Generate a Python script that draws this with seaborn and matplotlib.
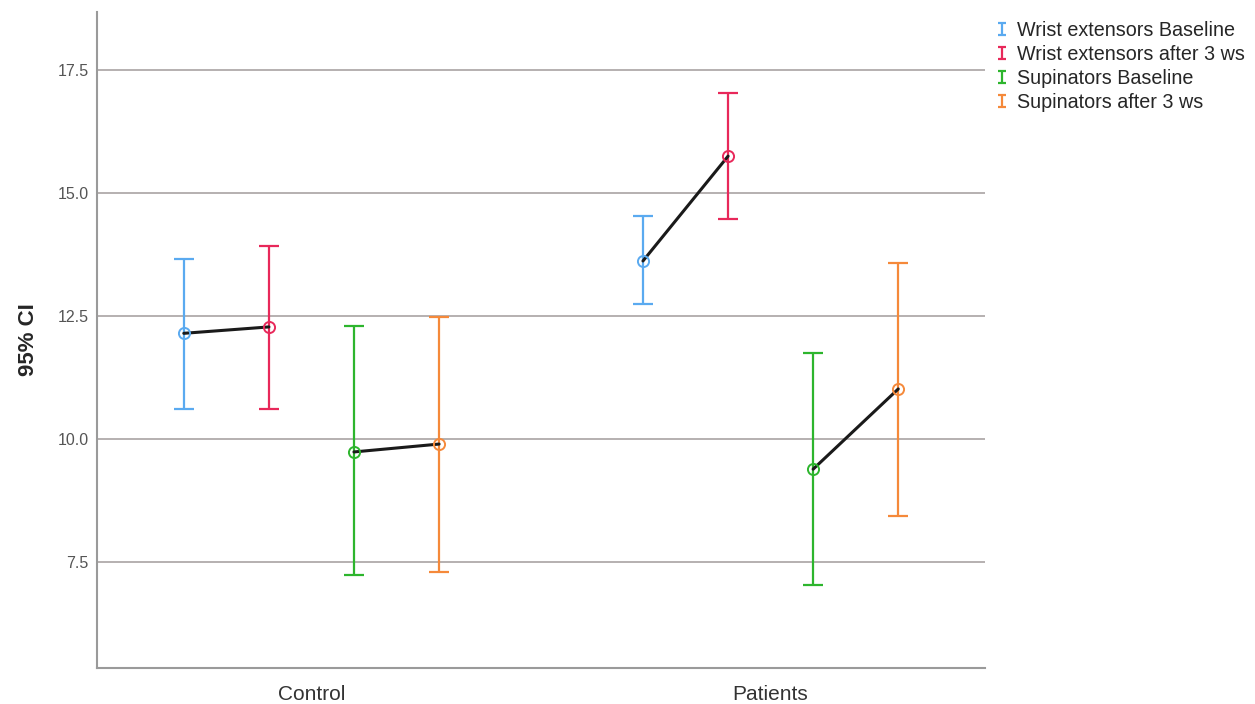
import numpy as np
import pandas as pd
import matplotlib
matplotlib.use("Agg")
import matplotlib.pyplot as plt
from matplotlib.container import ErrorbarContainer
from matplotlib.legend_handler import HandlerErrorbar
import seaborn as sns

# Groups and measurement series
groups = ["Control", "Patients"]
series = ["Wrist extensors Baseline", "Wrist extensors after 3 ws",
          "Supinators Baseline", "Supinators after 3 ws"]

# Means and 95% CI bounds per series, one value per group
we_base_mean = [12.15, 13.62]
we_base_low = [10.61, 12.74]
we_base_high = [13.66, 14.53]

we_after_mean = [12.28, 15.75]
we_after_low = [10.61, 14.48]
we_after_high = [13.92, 17.03]

sup_base_mean = [9.74, 9.39]
sup_base_low = [7.24, 7.03]
sup_base_high = [12.30, 11.75]

sup_after_mean = [9.90, 11.02]
sup_after_low = [7.30, 8.43]
sup_after_high = [12.48, 13.58]

y_ticks = [7.5, 10.0, 12.5, 15.0, 17.5]

colors = ["#5aaaf0", "#e8285a", "#2db52d", "#f5893a"]
offsets = [-0.278, -0.0926, 0.0926, 0.278]
pairs = ["wrist", "wrist", "sup", "sup"]

means = [we_base_mean, we_after_mean, sup_base_mean, sup_after_mean]
lows = [we_base_low, we_after_low, sup_base_low, sup_after_low]
highs = [we_base_high, we_after_high, sup_base_high, sup_after_high]

rows = []
for s, name in enumerate(series):
    for g, grp in enumerate(groups):
        rows.append({"series": name, "group": grp, "pos": g + offsets[s],
                     "mean": means[s][g], "low": lows[s][g], "high": highs[s][g],
                     "pair": f"{grp}-{pairs[s]}"})
df = pd.DataFrame(rows)

sns.set_style("white")
plt.rcParams["font.family"] = ["Liberation Sans", "DejaVu Sans"]

fig = plt.figure(figsize=(12.55, 7.04), dpi=100)
ax = fig.add_axes([0.0773, 0.0511, 0.7076, 0.932])

# Connecting lines between baseline and follow-up within each muscle group
sns.lineplot(data=df, x="pos", y="mean", units="pair", estimator=None,
             color="#1a1a1a", linewidth=2.2, ax=ax, legend=False, zorder=3)

handles = []
for s, name in enumerate(series):
    sub = df[df["series"] == name]
    err = np.vstack([sub["mean"] - sub["low"], sub["high"] - sub["mean"]])
    ax.errorbar(sub["pos"], sub["mean"], yerr=err, fmt="none",
                ecolor=colors[s], elinewidth=1.6, capsize=7.5,
                capthick=1.6, zorder=2)
    ax.plot(sub["pos"], sub["mean"], linestyle="none", marker="o",
            markersize=8, markerfacecolor="none", markeredgecolor=colors[s],
            markeredgewidth=1.4, zorder=4)
    # compact "I"-shaped key for the legend (empty data, nothing drawn)
    key = ax.errorbar([np.nan], [np.nan], yerr=[1.0], fmt="none",
                      ecolor=colors[s], elinewidth=1.6, capsize=3,
                      capthick=1.6)
    handles.append(key)

ax.set_xlim(-0.467, 1.467)
ax.set_ylim(5.35, 18.68)
ax.set_xticks([0, 1])
ax.set_xticklabels(groups, fontsize=15, color="#333333")
ax.set_yticks(y_ticks)
ax.set_yticklabels([f"{v:.1f}" for v in y_ticks], fontsize=11.5, color="#555555")
ax.tick_params(axis="y", length=0, pad=6)
ax.tick_params(axis="x", length=0, pad=12)
ax.set_xlabel("")
ax.set_ylabel("95% CI", fontsize=16, fontweight="bold", labelpad=13)

ax.yaxis.grid(True, color="#b5b0b0", linewidth=1.4)
ax.set_axisbelow(True)
for side in ["top", "right"]:
    ax.spines[side].set_visible(False)
for side in ["left", "bottom"]:
    ax.spines[side].set_color("#9a9a9a")
    ax.spines[side].set_linewidth(1.5)

fig.legend(handles=handles, labels=series, loc="upper left",
           bbox_to_anchor=(0.789, 0.982), frameon=False, fontsize=14.2,
           handlelength=0.4, handletextpad=0.55, labelspacing=0.26,
           borderaxespad=0.0,
           handler_map={ErrorbarContainer: HandlerErrorbar(yerr_size=0.3)})

fig.savefig("out.png", dpi=100, facecolor="white")
